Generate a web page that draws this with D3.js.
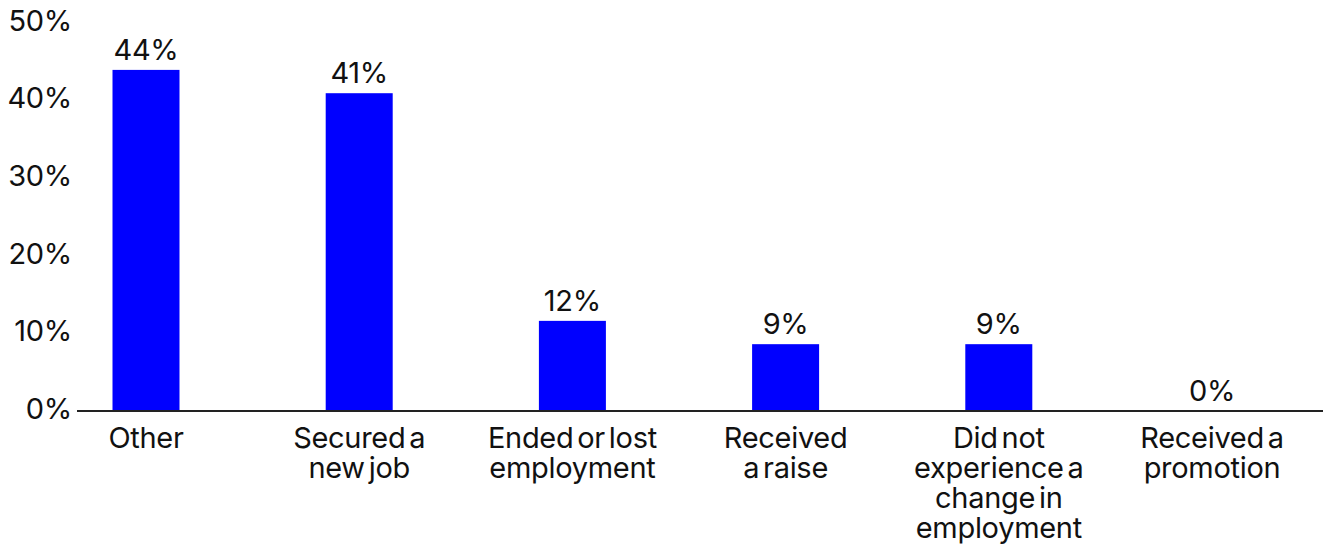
<!DOCTYPE html>
<html>
<head>
<meta charset="utf-8">
<script src="https://cdn.jsdelivr.net/npm/d3@7"></script>
<style>
  html, body { margin: 0; padding: 0; background: #fff; }
  svg { display: block; }
  text { font-family: Inter, "Liberation Sans", Arial, sans-serif; fill: #111; word-spacing: -4px; letter-spacing: -0.3px; }
</style>
</head>
<body>
<svg id="chart" width="1323" height="546"></svg>
<script>
// Employment outcomes (share of respondents, %)
const categories = [
  "Other",
  "Secured a new job",
  "Ended or lost employment",
  "Received a raise",
  "Did not experience a change in employment",
  "Received a promotion"
];
const categoryLines = [
  ["Other"],
  ["Secured a", "new job"],
  ["Ended or lost", "employment"],
  ["Received", "a raise"],
  ["Did not", "experience a", "change in", "employment"],
  ["Received a", "promotion"]
];
const values = [43.9, 40.9, 11.6, 8.6, 8.6, 0];
const yTicks = [0, 10, 20, 30, 40, 50];

const svg = d3.select("#chart");
const W = 1323, H = 546;
const axisLeft = 77, baseY = 411, topY = 22.5;
const barWidth = 67;
const fontSize = 29;

const x = d3.scalePoint()
  .domain(categories)
  .range([146, 1212]);

const y = d3.scaleLinear()
  .domain([0, 50])
  .range([baseY, topY]);

const pct = v => Math.round(v) + "%";

// y tick labels
svg.append("g")
  .selectAll("text")
  .data(yTicks)
  .join("text")
  .attr("x", 72)
  .attr("y", d => y(d) - 2)
  .attr("dy", "0.35em")
  .attr("text-anchor", "end")
  .style("font-size", fontSize + "px")
  .text(d => d + "%");

// bars
svg.append("g")
  .selectAll("rect")
  .data(values)
  .join("rect")
  .attr("x", (d, i) => x(categories[i]) - barWidth / 2)
  .attr("y", d => y(d))
  .attr("width", barWidth)
  .attr("height", d => y(0) - y(d))
  .attr("fill", "#0000ff");

// baseline
svg.append("line")
  .attr("x1", axisLeft)
  .attr("x2", W)
  .attr("y1", y(0))
  .attr("y2", y(0))
  .attr("stroke", "#222")
  .attr("stroke-width", 2);

// value labels
svg.append("g")
  .selectAll("text")
  .data(values)
  .join("text")
  .attr("x", (d, i) => x(categories[i]))
  .attr("y", d => y(d) - 10)
  .attr("text-anchor", "middle")
  .style("font-size", fontSize + "px")
  .text(d => pct(d));

// category labels
const cat = svg.append("g")
  .selectAll("text")
  .data(categories)
  .join("text")
  .attr("x", d => x(d))
  .attr("y", 448)
  .attr("text-anchor", "middle")
  .style("font-size", fontSize + "px");

cat.each(function(d, i) {
  d3.select(this)
    .selectAll("tspan")
    .data(categoryLines[i])
    .join("tspan")
    .attr("x", x(d))
    .attr("dy", (l, j) => j === 0 ? 0 : 30)
    .text(l => l);
});
</script>
</body>
</html>
